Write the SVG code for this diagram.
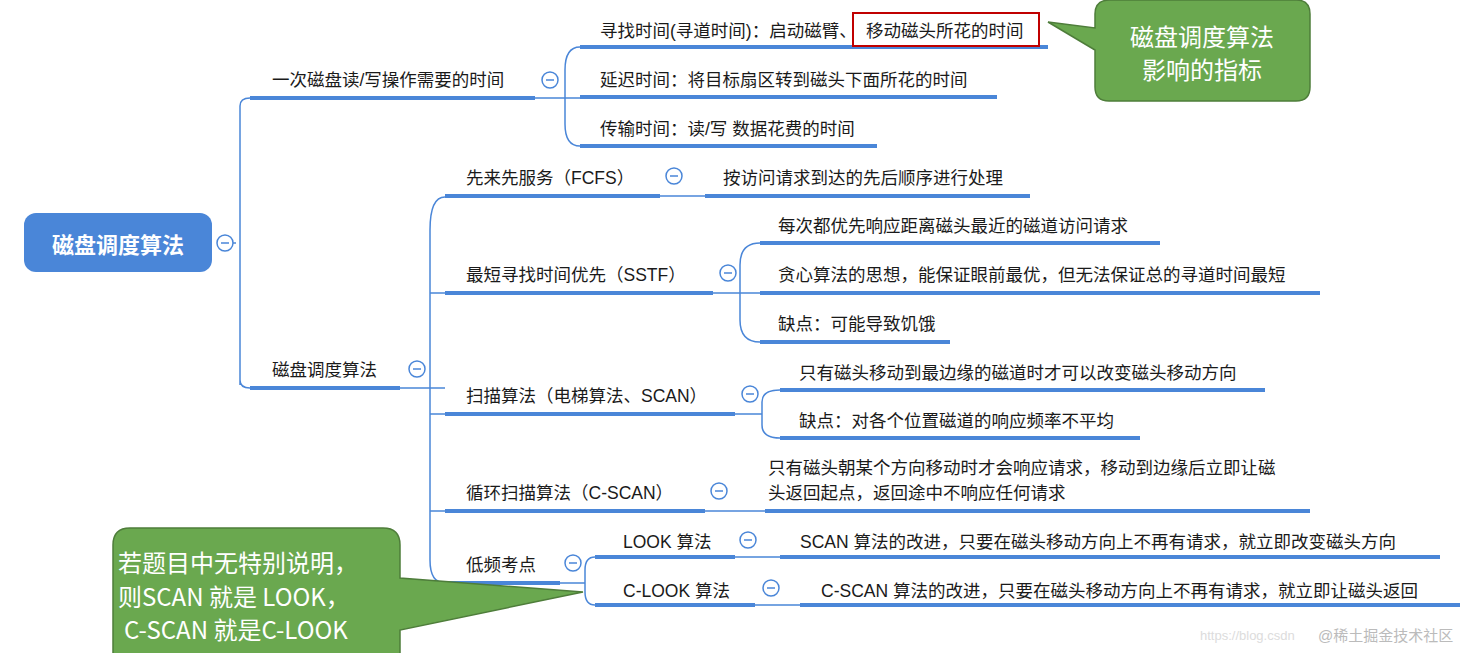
<svg xmlns="http://www.w3.org/2000/svg" width="1483" height="653" viewBox="0 0 1483 653">
<style>
text{font-family:"Liberation Sans","Noto Sans CJK SC",sans-serif;font-size:17.5px;fill:#1a1a1a}
.ul{stroke:#4a86d8;stroke-width:4;fill:none}
.cn{stroke:#4a86d8;stroke-width:1.5;fill:none}
.col{fill:#fff;stroke:#4a86d8;stroke-width:1.5}
.cb{fill:#fff;stroke:none;font-size:24px;font-family:"Noto Sans CJK SC",sans-serif}
</style>
<defs>
<g id="minus"><circle r="8" class="col"/><line x1="-4" y1="0" x2="4" y2="0" stroke="#4a86d8" stroke-width="1.5"/></g>
</defs>
<rect width="1483" height="653" fill="#fff"/>
<g id="connectors">
<path class="cn" d="M233,243 H236 M240,385 V106 Q240,98 250,98 M240,243 V380 Q240,388 250,388"/>
<path class="cn" d="M535,98 H580 M580,47 Q565,47 565,70 V124 Q565,146 580,146"/>
<path class="cn" d="M400,388 H445 M445,197 Q430,197 430,230 V560 Q430,583 445,583 M430,293 Q430,293 445,293"/>
<path class="cn" d="M430,414 H445 M430,511 H445"/>
<path class="cn" d="M660,196 H705"/>
<path class="cn" d="M713,293 H760 M760,243 Q740,243 740,265 V320 Q740,342 760,342"/>
<path class="cn" d="M735,414 H762 M780,390 Q762,390 762,402 V425 Q762,438 780,438"/>
<path class="cn" d="M705,511 H765"/>
<path class="cn" d="M560,583 H585 M595,557 Q585,557 585,570 V592 Q585,605 595,605"/>
<path class="cn" d="M735,557 H780 M755,605 H800"/>
</g>
<g id="root"><rect x="24" y="213" width="188" height="59" rx="12" fill="#4a86d8"/>
<text x="118" y="253" text-anchor="middle" style="fill:#fff;font-size:22px;font-weight:bold">磁盘调度算法</text>
<use href="#minus" x="225" y="243"/></g>
<g id="n1"><line class="ul" x1="250" y1="98" x2="535" y2="98"/><text x="272" y="86">一次磁盘读/写操作需要的时间</text><use href="#minus" x="550" y="80"/></g>
<g id="n1a"><line class="ul" x1="580" y1="47" x2="1048" y2="47"/><text x="600" y="37">寻找时间(寻道时间)：启动磁臂、</text>
<rect x="853" y="13" width="186" height="33" fill="none" stroke="#c00000" stroke-width="2"/><text x="866" y="37">移动磁头所花的时间</text></g>
<g id="n1b"><line class="ul" x1="580" y1="97" x2="997" y2="97"/><text x="600" y="86">延迟时间：将目标扇区转到磁头下面所花的时间</text></g>
<g id="n1c"><line class="ul" x1="580" y1="146" x2="877" y2="146"/><text x="600" y="135">传输时间：读/写 数据花费的时间</text></g>
<g id="n2"><line class="ul" x1="250" y1="388" x2="400" y2="388"/><text x="272" y="376">磁盘调度算法</text><use href="#minus" x="417" y="369"/></g>
<g id="fcfs"><line class="ul" x1="445" y1="196" x2="660" y2="196"/><text x="466" y="184">先来先服务（FCFS）</text><use href="#minus" x="674" y="176"/></g>
<g id="fcfs1"><line class="ul" x1="705" y1="196" x2="1030" y2="196"/><text x="723" y="184">按访问请求到达的先后顺序进行处理</text></g>
<g id="sstf"><line class="ul" x1="445" y1="293" x2="713" y2="293"/><text x="466" y="281">最短寻找时间优先（SSTF）</text><use href="#minus" x="728" y="273"/></g>
<g id="sstf1"><line class="ul" x1="760" y1="243" x2="1160" y2="243"/><text x="778" y="232">每次都优先响应距离磁头最近的磁道访问请求</text></g>
<g id="sstf2"><line class="ul" x1="760" y1="293" x2="1320" y2="293"/><text x="778" y="281">贪心算法的思想，能保证眼前最优，但无法保证总的寻道时间最短</text></g>
<g id="sstf3"><line class="ul" x1="760" y1="342" x2="950" y2="342"/><text x="778" y="330">缺点：可能导致饥饿</text></g>
<g id="scan"><line class="ul" x1="445" y1="414" x2="735" y2="414"/><text x="466" y="402">扫描算法（电梯算法、SCAN）</text><use href="#minus" x="750" y="394"/></g>
<g id="scan1"><line class="ul" x1="780" y1="390" x2="1265" y2="390"/><text x="799" y="379">只有磁头移动到最边缘的磁道时才可以改变磁头移动方向</text></g>
<g id="scan2"><line class="ul" x1="780" y1="438" x2="1140" y2="438"/><text x="799" y="427">缺点：对各个位置磁道的响应频率不平均</text></g>
<g id="cscan"><line class="ul" x1="445" y1="511" x2="705" y2="511"/><text x="466" y="499">循环扫描算法（C-SCAN）</text><use href="#minus" x="719" y="491"/></g>
<g id="cscan1"><line class="ul" x1="765" y1="511" x2="1310" y2="511"/><text x="768" y="474">只有磁头朝某个方向移动时才会响应请求，移动到边缘后立即让磁</text><text x="768" y="499">头返回起点，返回途中不响应任何请求</text></g>
<g id="low"><line class="ul" x1="445" y1="583" x2="560" y2="583"/><text x="466" y="571">低频考点</text><use href="#minus" x="573" y="563"/></g>
<g id="look"><line class="ul" x1="595" y1="557" x2="735" y2="557"/><text x="623" y="548">LOOK 算法</text><use href="#minus" x="748" y="540"/></g>
<g id="look1"><line class="ul" x1="780" y1="557" x2="1440" y2="557"/><text x="800" y="548">SCAN 算法的改进，只要在磁头移动方向上不再有请求，就立即改变磁头方向</text></g>
<g id="clook"><line class="ul" x1="595" y1="605" x2="755" y2="605"/><text x="623" y="597">C-LOOK 算法</text><use href="#minus" x="771" y="588"/></g>
<g id="clook1"><line class="ul" x1="800" y1="605" x2="1460" y2="605"/><text x="821" y="597">C-SCAN 算法的改进，只要在磁头移动方向上不再有请求，就立即让磁头返回</text></g>
<g id="callout1">
<path d="M1110,0 H1296 Q1310,0 1310,14 V87 Q1310,101 1296,101 H1109 Q1095,101 1095,87 V50 L1048,22 L1095,28 V14 Q1095,0 1110,0 Z" fill="#6aa84f" stroke="#4e7d3a" stroke-width="1.5"/>
<text class="cb" x="1202" y="46" text-anchor="middle">磁盘调度算法</text><text class="cb" x="1202" y="79" text-anchor="middle">影响的指标</text></g>
<g id="callout2">
<path d="M130,528 H383 Q400,528 400,545 V578 L583,592 L400,630 V660 H113 V545 Q113,528 130,528 Z" fill="#6aa84f" stroke="#4e7d3a" stroke-width="1.5"/>
<text class="cb" x="118" y="572">若题目中无特别说明，</text><text class="cb" x="118" y="606">则SCAN 就是 LOOK，</text><text class="cb" x="124" y="639"> C-SCAN 就是C-LOOK</text></g>
<text x="1200" y="640" style="fill:#dcdcdc;font-size:13px">https://blog.csdn</text>
<text x="1318" y="641" style="fill:#bbbbbb;font-size:15px">@稀土掘金技术社区</text>
</svg>
